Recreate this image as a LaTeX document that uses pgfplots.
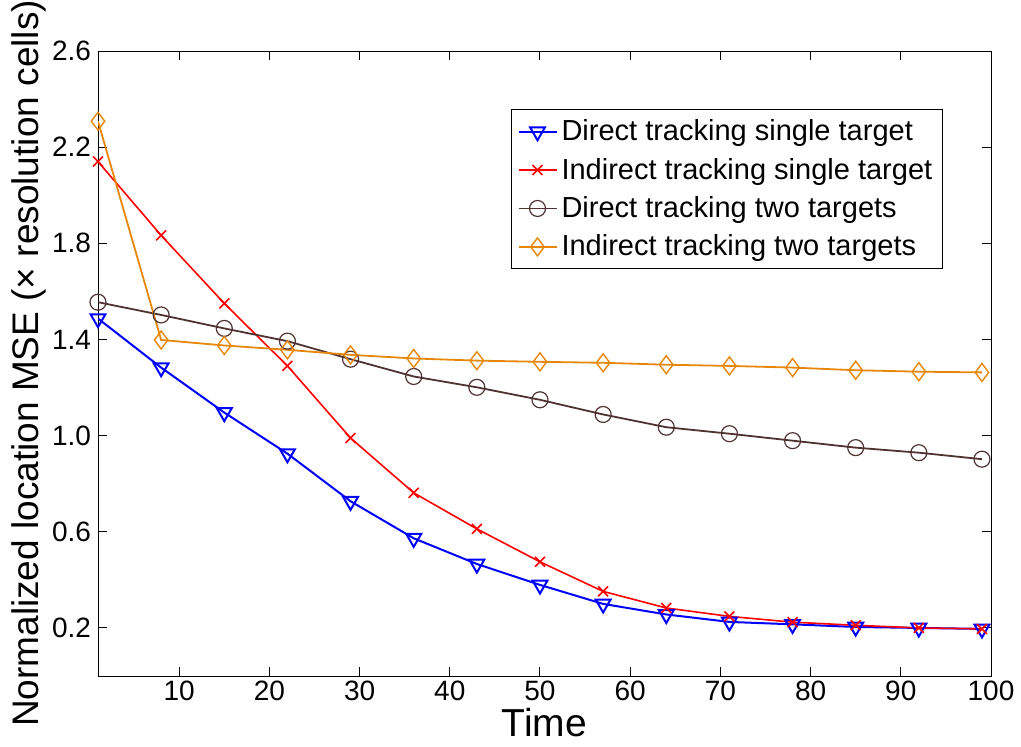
\documentclass[border=0pt]{standalone}
\usepackage{fontspec}
\setmainfont{Liberation Sans}
\usepackage{pgfplots}
\pgfplotsset{compat=1.18}
\definecolor{cBrown}{RGB}{80,50,50}
\definecolor{cOrange}{RGB}{230,135,10}
\begin{document}
\begin{tikzpicture}
\begin{axis}[
  scale only axis,
  width=446.5pt, height=312.5pt,
  xmin=1, xmax=100, ymin=0, ymax=2.6,
  xtick={10,20,...,100},
  ytick={0.2,0.6,1.0,1.4,1.8,2.2,2.6},
  yticklabel style={/pgf/number format/.cd, fixed, fixed zerofill, precision=1},
  /pgf/number format/assume math mode=true,
  tick align=inside,
  major tick length=4.5pt,
  axis line style={line width=0.5pt},
  every tick/.style={black, line width=0.5pt},
  ticklabel style={font=\fontsize{14pt}{16pt}\selectfont},
  xticklabel style={yshift=1pt},
  xlabel={Time},
  ylabel={Normalized location MSE (× resolution cells)},
  xlabel style={font=\fontsize{19.5pt}{21pt}\selectfont, yshift=3pt},
  ylabel style={font=\fontsize{18.5pt}{20pt}\selectfont, yshift=-4pt},
  legend style={at={(rel axis cs:0.4625,0.907)}, anchor=north west,
    font=\fontsize{14.5pt}{17pt}\selectfont, draw=black, line width=0.5pt,
    row sep=3.2pt, inner sep=3pt},
  legend cell align=left,
  legend image code/.code={
    \draw[mark repeat=2,mark phase=2] plot coordinates {(0pt,0pt) (9.5pt,0pt) (19pt,0pt)};},
]
\addplot[blue, line width=1pt, mark=triangle, mark size=4.3pt, mark options={rotate=180, solid, fill=white}] coordinates {
(1,1.487) (8,1.283) (15,1.096) (22,0.925) (29,0.727) (36,0.573) (43,0.466) (50,0.379) (57,0.300) (64,0.256) (71,0.225) (78,0.215) (85,0.204) (92,0.200) (99,0.196)};
\addlegendentry{Direct tracking single target}
\addplot[red, line width=0.8pt, mark=x, mark size=3.5pt] coordinates {
(1,2.140) (8,1.833) (15,1.550) (22,1.290) (29,0.990) (36,0.762) (43,0.612) (50,0.475) (57,0.352) (64,0.283) (71,0.248) (78,0.224) (85,0.211) (92,0.200) (99,0.196)};
\addlegendentry{Indirect tracking single target}
\addplot[cBrown, line width=0.9pt, mark=o, mark size=4pt, mark options={fill=white, line width=0.6pt}] coordinates {
(1,1.555) (8,1.502) (15,1.446) (22,1.393) (29,1.318) (36,1.246) (43,1.201) (50,1.149) (57,1.088) (64,1.035) (71,1.008) (78,0.979) (85,0.950) (92,0.929) (99,0.902)};
\addlegendentry{Direct tracking two targets}
\addplot[cOrange, line width=0.9pt, mark=diamond, mark size=4.5pt, mark options={fill=white, line width=0.7pt}] coordinates {
(1,2.308) (8,1.398) (15,1.375) (22,1.357) (29,1.336) (36,1.321) (43,1.312) (50,1.307) (57,1.303) (64,1.295) (71,1.290) (78,1.283) (85,1.272) (92,1.266) (99,1.263)};
\addlegendentry{Indirect tracking two targets}
\end{axis}
\pgfresetboundingbox
\path (current axis.south west) ++(-49pt,-35pt) coordinate (bbA);
\path (current axis.north east) ++(15pt,25.5pt) coordinate (bbB);
\path[use as bounding box] (bbA) rectangle (bbB);
\end{tikzpicture}
\end{document}
